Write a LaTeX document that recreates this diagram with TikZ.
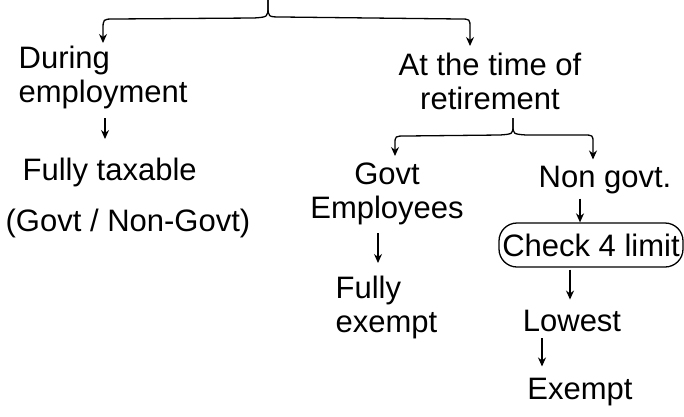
\documentclass[tikz,border=0pt]{standalone}
\usepackage{fontspec}
\setmainfont{Liberation Sans}
\usetikzlibrary{arrows,arrows.meta,positioning,shapes}

\begin{document}
\begin{tikzpicture}[x=1pt,y=-1pt,>={Stealth[length=9pt,width=8pt]},line width=1.3pt,
   every node/.style={font=\fontsize{31}{34}\selectfont,inner sep=0pt},
   chk/.style={draw,rounded corners=18pt,minimum width=184pt,minimum height=44pt}]
   \useasboundingbox (0,0) rectangle (684,416);
   % left branch
   \coordinate (top) at (268,0);
   \node[anchor=north west,align=left] (during) at (18,45) {During\\employment};
   \node[anchor=north west] (tax) at (22,157) {Fully taxable};
   \node[anchor=north west] (both) at (5,208) {(Govt / Non-Govt)};
   % right branch
   \node[anchor=north,align=center] (retire) at (490,52) {At the time of\\retirement};
   \coordinate (top2) at (513,118);
   \node[anchor=north,align=center] (govt) at (387,162) {Govt\\Employees};
   \node[anchor=north west,align=left] (fully) at (335,275) {Fully\\exempt};
   \node (nongovt) at (605,180) {Non govt.};
   \node[chk] (check) at (591,245) {Check 4 limit};
   \node (lowest) at (572,321) {Lowest};
   \node (exempt) at (580,392) {Exempt};
   % braces
   \draw[->] (top) -- (268,6) .. controls (268,17) .. (254,18) -- (114,19)
      .. controls (103,19) .. (103,30) -- ([yshift=2pt]103,0 |- during.north);
   \draw[->] (top) -- (268,6) .. controls (268,17) .. (282,17) -- (460,19)
      .. controls (470,19) .. (470,28) -- ([yshift=6pt]470,0 |- retire.north);
   \draw[->] (top2) -- (513,125) .. controls (513,134) .. (500,135) -- (406,136)
      .. controls (395,136) .. (395,144) -- ([yshift=6pt]395,0 |- govt.north);
   \draw[->] (top2) -- (513,125) .. controls (513,134) .. (526,135) -- (583,135)
      .. controls (593,135) .. (593,143) -- ([yshift=6pt]593,0 |- nongovt.north);
   % arrows
   \draw[->] ([yshift=-9pt]105,0 |- during.south) -- ([yshift=18pt]105,0 |- tax.north);
   \draw[->] ([yshift=-8pt]378,0 |- govt.south) -- ([yshift=12pt]378,0 |- fully.north);
   \draw[->] ([yshift=-4pt]580,0 |- nongovt.south) -- (580,0 |- check.north);
   \draw[->] ([yshift=-2pt]570,0 |- check.south) -- ([yshift=10pt]570,0 |- lowest.north);
   \draw[->] ([yshift=-6pt]542,0 |- lowest.south) -- ([yshift=11pt]542,0 |- exempt.north);
\end{tikzpicture}
\end{document}
